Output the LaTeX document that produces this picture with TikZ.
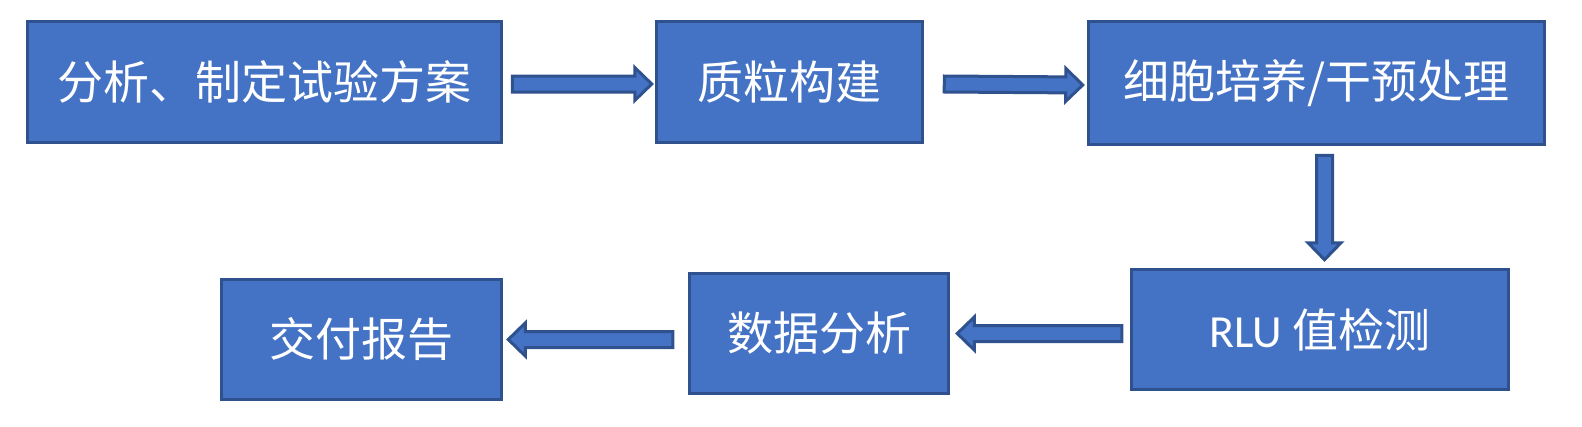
\documentclass[tikz,border=0pt]{standalone}
\usepackage{fontspec}
\setmainfont{Carlito}
\newfontfamily\cjk{Noto Sans CJK SC}
\usetikzlibrary{calc}
\definecolor{boxfill}{HTML}{4472C4}
\definecolor{boxline}{HTML}{2F528F}
\tikzset{
  stepbox/.style={draw=boxline, fill=boxfill, line width=3.5pt, inner sep=0pt,
    text=white, font=\fontsize{46}{52}\selectfont\cjk},
  arrowst/.style={draw=boxline, fill=boxfill, line width=3pt, line join=miter}
}
\newcommand\blk[2]{%
  \path (#1) coordinate (t0) (#2) coordinate (t1);
  \path ($(t1)!17pt!(t0)$) coordinate (th);
  \draw[arrowst] ($(t0)!8pt!90:(t1)$) -- ($(th)!8pt!90:(t1)$) -- ($(th)!16.5pt!90:(t1)$)
    -- (t1) -- ($(th)!16.5pt!-90:(t1)$) -- ($(th)!8pt!-90:(t1)$) -- ($(t0)!8pt!-90:(t1)$) -- cycle;}
\begin{document}
\begin{tikzpicture}[x=1pt,y=-1pt]
\useasboundingbox (0,0) rectangle (1582,426);
\node[stepbox, minimum width=474pt, minimum height=121pt] (n1) at (264.5,82) {分析、制定试验方案};
\node[stepbox, minimum width=266pt, minimum height=121pt] (n2) at (789.5,82) {质粒构建};
\node[stepbox, minimum width=456pt, minimum height=123pt] (n3) at (1316.5,83) {细胞培养/干预处理};
\node[stepbox, minimum width=377pt, minimum height=120pt] (n4) at (1320,329.5) {{\rmfamily RLU} 值检测};
\node[stepbox, minimum width=259pt, minimum height=120pt] (n5) at (819,333.5) {数据分析};
\node[stepbox, minimum width=280pt, minimum height=120pt] (n6) at (361.5,339.5) {交付报告};
\blk{$(n1.east)+(9,2)$}{$(n2.west)+(-3,2)$}
\blk{$(n2.east)+(20,2)$}{$(n3.west)+(-4,2)$}
\blk{$(n3.south)+(8,9)$}{$(n3.south |- n4.north)+(8,-8)$}
\blk{$(n5.east -| n4.west)+(-8,0)$}{$(n5.east)+(7,0)$}
\blk{$(n6.east -| n5.west)+(-15,0)$}{$(n6.east)+(5,0)$}
\end{tikzpicture}
\end{document}
